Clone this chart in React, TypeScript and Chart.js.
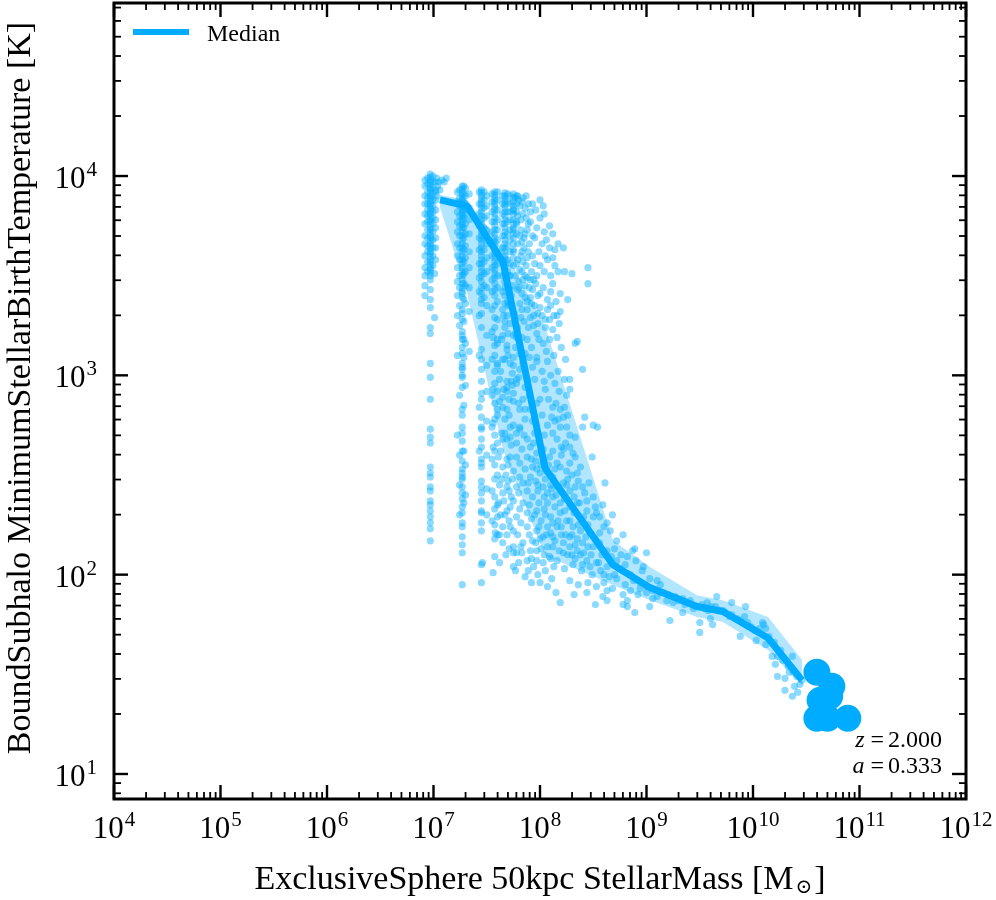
import { useEffect, useRef } from 'react';
import { Chart, registerables } from 'chart.js';
import type { Plugin } from 'chart.js';

Chart.register(...registerables);

// all values are log10: stellar mass [Msun], temperature [K]
const xRange = [1e4, 1e12];
const yRange = [7.49, 7.38e4];
const xTickExponents = [4, 5, 6, 7, 8, 9, 10, 11, 12];
const yTickExponents = [1, 2, 3, 4];

// galaxies with 1..6 star particles sit in vertical columns
const columnLogMass = [
  6.92, 6.945, 6.97, 6.995, 7.02,
  7.225, 7.245, 7.27, 7.285, 7.3, 7.335,
  7.43, 7.45, 7.475, 7.5,
  7.55, 7.575, 7.6,
  7.65, 7.67, 7.695,
  7.72, 7.75, 7.78,
];
const columnLogTemp = [
  [3.98, 3.95, 3.9, 3.86, 3.81, 3.76, 3.7, 3.66, 3.6, 3.54, 3.5, 3.45, 3.4],
  [3.99, 3.96, 3.92, 3.89, 3.86, 3.83, 3.8, 3.77, 3.73, 3.69, 3.65, 3.62, 3.57, 3.52],
  [4.01, 3.995, 3.98, 3.97, 3.955, 3.94, 3.93, 3.915, 3.9, 3.89, 3.875, 3.86, 3.85, 3.835, 3.82, 3.81,
    3.795, 3.78, 3.77, 3.755, 3.74, 3.73, 3.715, 3.7, 3.69, 3.675, 3.66, 3.65, 3.635, 3.62, 3.61, 3.595,
    3.58, 3.57, 3.555, 3.54, 3.53, 3.515, 3.5, 3.48, 3.43, 3.38, 3.34, 3.24, 3.21, 3.06, 2.99, 2.88,
    2.73, 2.69, 2.66, 2.54, 2.51, 2.49, 2.44, 2.42, 2.37, 2.35, 2.32, 2.29, 2.26, 2.23, 2.17],
  [4.0, 3.97, 3.94, 3.91, 3.88, 3.85, 3.82, 3.79, 3.76, 3.72, 3.68, 3.64, 3.6, 3.55],
  [3.97, 3.93, 3.88, 3.83, 3.78, 3.74, 3.69, 3.64, 3.58],
  [3.92, 3.87, 3.82, 3.77, 3.72, 3.66, 3.6, 3.54, 3.47, 3.4, 3.3, 3.1, 2.7],
  [3.93, 3.89, 3.85, 3.8, 3.75, 3.7, 3.64, 3.58, 3.5, 3.44, 3.35, 3.25, 2.9, 2.6, 2.45, 2.3],
  [3.95, 3.935, 3.92, 3.905, 3.89, 3.875, 3.86, 3.845, 3.83, 3.815, 3.8, 3.785, 3.77, 3.755, 3.74,
    3.72, 3.7, 3.68, 3.66, 3.64, 3.62, 3.6, 3.58, 3.56, 3.54, 3.52, 3.5, 3.48, 3.46, 3.44, 3.42, 3.41,
    3.39, 3.33, 3.31, 3.28, 3.22, 3.2, 3.18, 3.14, 3.11, 3.06, 3.04, 3.03, 3.0, 2.99, 2.94, 2.83, 2.8,
    2.74, 2.71, 2.67, 2.62, 2.57, 2.53, 2.51, 2.49, 2.48, 2.44, 2.41, 2.38, 2.34, 2.31, 2.26, 2.24,
    2.19, 2.15, 2.11, 1.95],
  [3.95, 3.91, 3.87, 3.83, 3.79, 3.74, 3.69, 3.63, 3.57, 3.51, 3.46, 3.38, 3.27, 3.18, 3.09, 2.85, 2.62, 2.36],
  [3.94, 3.9, 3.86, 3.81, 3.76, 3.71, 3.65, 3.59, 3.52, 3.45, 3.36, 3.16, 2.95, 2.55, 2.4],
  [3.91, 3.84, 3.78, 3.71, 3.62, 3.54, 3.44, 3.32, 3.12],
  [3.92, 3.86, 3.81, 3.75, 3.69, 3.63, 3.56, 3.49, 3.42, 3.3, 3.1, 2.84, 2.62],
  [3.93, 3.915, 3.9, 3.885, 3.87, 3.855, 3.84, 3.82, 3.8, 3.78, 3.76, 3.74, 3.72, 3.7, 3.68, 3.66,
    3.64, 3.62, 3.6, 3.58, 3.56, 3.54, 3.52, 3.5, 3.47, 3.44, 3.41, 3.38, 3.36, 3.31, 3.24, 3.13, 3.08,
    3.03, 2.97, 2.91, 2.88, 2.79, 2.74, 2.73, 2.68, 2.64, 2.58, 2.56, 2.54, 2.47, 2.44, 2.41, 2.37,
    2.32, 2.31, 2.26, 2.22, 2.05, 1.96],
  [3.92, 3.88, 3.84, 3.79, 3.74, 3.69, 3.63, 3.57, 3.51, 3.45, 3.39],
  [3.9, 3.85, 3.8, 3.73, 3.66, 3.59, 3.52, 3.44, 3.35, 3.2, 3.05, 2.92, 2.77, 2.6, 2.43, 2.3],
  [3.91, 3.87, 3.82, 3.77, 3.72, 3.66, 3.6, 3.54, 3.48, 3.42, 3.33, 3.22, 3.08, 2.9, 2.74, 2.58, 2.42, 2.27],
  [3.92, 3.905, 3.89, 3.875, 3.86, 3.845, 3.83, 3.81, 3.79, 3.77, 3.75, 3.73, 3.71, 3.69, 3.67, 3.65,
    3.63, 3.61, 3.59, 3.57, 3.55, 3.53, 3.51, 3.49, 3.46, 3.43, 3.4, 3.35, 3.29, 3.24, 3.15, 3.1, 3.02,
    2.96, 2.86, 2.78, 2.7, 2.62, 2.55, 2.48, 2.39, 2.33, 2.25, 2.18, 2.09],
  [3.92, 3.88, 3.83, 3.78, 3.73, 3.68, 3.62, 3.56, 3.5, 3.44, 3.37, 3.28, 3.18, 3.05, 2.92, 2.8, 2.66, 2.5, 2.35, 2.2],
  [3.9, 3.86, 3.81, 3.76, 3.7, 3.64, 3.57, 3.5, 3.42, 3.33, 3.2],
  [3.915, 3.9, 3.885, 3.87, 3.855, 3.84, 3.82, 3.8, 3.78, 3.76, 3.74, 3.72, 3.7, 3.68, 3.66, 3.64,
    3.62, 3.6, 3.58, 3.55, 3.51, 3.47, 3.4, 3.36, 3.27],
  [3.91, 3.87, 3.82, 3.77, 3.71, 3.65, 3.58, 3.52, 3.45, 3.37],
  [3.9, 3.86, 3.82, 3.78, 3.73, 3.68, 3.62, 3.56, 3.5, 3.43, 3.35],
  [3.91, 3.89, 3.87, 3.85, 3.83, 3.81, 3.78, 3.76, 3.74, 3.71, 3.69, 3.66, 3.63, 3.59, 3.55],
  [3.9, 3.86, 3.82, 3.77, 3.71],
];

// the rest of the subhalos, [log M, log T]
const cloudPoints: [number, number][] = [
  [7.03, 3.99], [7.05, 3.97], [7.08, 3.98], [7.04, 3.95], [7.06, 3.93], [7.02, 3.92], [7.1, 3.97],
  [7.12, 3.99], [7.03, 3.9], [7.01, 3.51], [7.01, 3.29],
  [7.77, 3.89], [7.83, 3.87], [7.89, 3.86], [7.93, 3.86], [8.0, 3.88], [8.03, 3.85], [8.09, 3.75],
  [8.12, 3.71], [8.17, 3.66], [8.22, 3.64], [8.09, 3.64], [8.02, 3.66], [7.95, 3.69], [7.97, 3.74],
  [8.0, 3.79], [7.89, 3.76], [7.86, 3.71], [8.12, 3.59], [8.07, 3.58], [8.0, 3.55], [8.17, 3.52],
  [8.23, 3.52], [8.3, 3.51], [8.45, 3.54], [8.45, 3.46], [8.19, 3.41], [8.26, 3.38], [8.12, 3.46],
  [8.03, 3.44], [7.93, 3.43], [8.07, 3.38], [7.91, 3.39], [7.83, 3.41], [8.19, 3.32], [8.16, 3.3],
  [8.09, 3.28], [8.07, 3.33], [7.98, 3.31], [8.12, 3.23], [7.98, 3.26], [7.97, 3.21], [8.03, 3.16],
  [8.09, 3.18], [8.16, 3.19], [8.33, 3.16], [8.35, 3.17], [8.4, 3.03], [8.23, 2.98], [8.28, 2.98],
  [8.14, 2.96], [8.07, 3.07], [7.97, 3.07], [7.93, 3.04], [7.97, 3.09], [7.88, 3.18], [7.92, 3.14],
  [8.28, 2.93], [8.05, 2.93], [8.0, 2.88], [8.12, 2.84], [8.19, 2.83], [8.22, 2.79], [8.11, 2.79],
  [8.07, 2.75], [8.19, 2.74], [8.42, 2.79], [8.5, 2.75], [8.54, 2.74], [8.4, 2.74], [8.33, 2.69],
  [7.67, 3.44], [7.69, 3.3], [7.67, 3.24], [7.75, 3.2], [7.69, 3.15], [7.77, 3.14], [7.67, 3.08],
  [7.75, 3.05], [7.81, 3.03], [7.86, 3.11], [7.69, 2.97], [7.78, 2.98], [7.86, 2.94], [7.69, 2.92],
  [7.75, 2.87], [7.69, 2.83], [7.81, 2.83], [7.86, 2.83], [7.75, 2.75], [7.81, 2.74], [7.67, 2.71],
  [7.75, 3.83], [7.79, 3.8], [7.75, 3.73], [7.83, 3.67], [7.75, 3.62], [7.84, 3.57], [7.81, 3.53],
  [7.88, 3.49], [7.91, 3.48], [7.95, 3.56], [7.93, 3.6], [7.89, 3.62], [7.78, 3.56], [7.84, 3.48],
  [7.79, 3.43], [7.86, 3.39], [7.92, 3.36], [7.83, 3.33], [7.91, 3.29], [7.89, 3.24], [7.79, 3.24],
  [7.72, 3.26], [7.83, 3.19],
  [8.23, 2.84], [8.17, 2.78], [8.25, 2.74], [8.12, 2.71], [8.28, 2.64], [8.22, 2.63], [8.33, 2.59],
  [8.49, 2.59], [8.38, 2.54], [8.35, 2.51], [8.25, 2.52], [8.19, 2.54], [8.16, 2.56], [8.09, 2.59],
  [8.12, 2.49], [8.22, 2.46], [8.28, 2.42], [8.4, 2.44], [8.42, 2.41], [8.5, 2.39], [8.61, 2.46],
  [8.59, 2.35], [8.53, 2.31], [8.68, 2.3], [8.63, 2.26], [8.5, 2.29], [8.44, 2.32], [8.35, 2.36],
  [8.28, 2.34], [8.19, 2.36], [8.12, 2.39], [8.19, 2.31], [8.25, 2.27], [8.31, 2.24], [8.38, 2.22],
  [8.47, 2.21], [8.56, 2.21], [8.72, 2.17], [8.78, 2.2], [8.87, 2.12], [8.82, 2.09], [8.72, 2.07],
  [8.63, 2.12], [8.56, 2.16], [8.5, 2.14], [8.4, 2.16], [8.35, 2.12], [8.28, 2.14], [8.22, 2.11],
  [8.16, 2.07], [8.09, 2.09], [8.03, 2.06], [7.97, 2.07], [8.44, 2.07], [8.53, 2.06], [8.63, 2.04],
  [7.6, 3.16], [7.65, 3.08], [7.72, 3.06], [7.81, 3.11], [7.88, 2.98], [7.78, 2.96], [7.69, 2.94],
  [7.75, 2.91], [7.84, 2.88], [7.91, 2.83], [7.65, 2.84], [7.72, 2.74], [7.81, 2.73], [7.88, 2.68],
  [7.78, 2.66], [7.69, 2.68], [7.91, 2.64], [7.97, 2.61], [7.88, 2.59], [7.81, 2.56], [7.75, 2.52],
  [7.65, 2.54], [7.72, 2.59], [7.93, 2.54], [8.0, 2.51], [7.91, 2.49], [7.84, 2.46], [7.78, 2.44],
  [7.7, 2.47], [7.65, 2.41], [7.75, 2.37], [7.84, 2.36], [7.93, 2.39], [8.03, 2.44], [8.07, 2.36],
  [7.97, 2.32], [7.88, 2.31], [7.78, 2.29], [7.69, 2.32], [7.6, 2.29], [7.65, 2.24], [7.75, 2.22],
  [7.88, 2.24], [7.97, 2.22], [8.07, 2.24], [8.03, 2.19], [7.93, 2.17], [7.84, 2.16], [7.75, 2.14],
  [7.65, 2.16], [7.58, 2.21], [7.78, 2.11], [7.88, 2.07], [7.97, 2.12], [8.07, 2.14], [8.12, 2.19],
  [8.16, 2.24], [7.75, 2.04], [7.62, 2.06], [7.46, 2.06],
  [7.56, 3.19], [7.6, 3.06], [7.62, 2.98], [7.56, 2.93], [7.65, 2.89], [7.6, 2.83], [7.56, 2.76],
  [7.64, 2.71], [7.56, 2.64], [7.61, 2.59], [7.65, 2.68], [7.69, 3.13], [7.75, 3.09], [7.74, 3.01],
  [7.78, 3.19],
  [7.75, 2.11], [7.83, 2.11], [7.89, 2.02], [7.98, 2.0], [8.07, 1.94], [7.92, 1.96], [7.77, 2.02],
  [7.56, 2.01], [8.19, 1.86], [8.44, 1.91], [8.52, 1.85], [8.63, 1.87], [8.78, 1.85], [8.89, 1.81],
  [9.03, 1.84], [9.06, 1.88], [9.0, 1.91], [9.16, 1.91], [9.22, 1.77], [9.5, 1.76], [9.62, 1.75],
  [9.41, 1.87], [9.66, 1.89], [9.8, 1.86], [9.93, 1.84],
  [8.89, 2.13], [9.0, 2.11], [8.97, 2.04], [8.96, 2.02], [9.03, 1.98], [9.1, 1.97], [9.13, 1.95],
  [8.94, 1.93], [8.85, 1.92], [8.78, 1.9], [8.82, 1.87], [9.19, 1.87], [9.25, 1.86], [9.34, 1.88],
  [9.47, 1.84], [9.57, 1.86], [9.61, 1.84], [9.5, 1.71], [9.72, 1.82], [9.78, 1.79], [9.88, 1.69],
  [9.95, 1.76], [10.1, 1.75], [10.12, 1.73], [10.03, 1.67], [8.59, 1.89], [8.82, 1.84], [8.63, 1.92],
  [8.53, 1.94],
  [9.6, 1.78], [9.34, 1.81], [10.09, 1.76], [10.12, 1.65], [10.18, 1.59], [10.23, 1.59], [10.21, 1.55],
  [10.37, 1.59], [10.33, 1.54], [10.23, 1.49], [10.3, 1.48], [10.39, 1.44], [10.42, 1.41],
  [10.37, 1.39], [10.3, 1.42], [10.46, 1.47], [10.38, 1.51],
  [8.75, 2.03], [8.85, 2.0], [8.94, 1.96], [9.13, 1.91], [9.27, 1.89], [9.55, 1.83], [9.69, 1.82],
  [9.88, 1.77], [10.02, 1.72],
  // denser body of the cloud
  [7.8, 3.88], [7.86, 3.84], [7.91, 3.82], [7.96, 3.83], [8.04, 3.81], [7.82, 3.78], [7.88, 3.73],
  [7.93, 3.7], [8.04, 3.72], [8.06, 3.68], [7.81, 3.7], [7.85, 3.64], [7.9, 3.66], [7.99, 3.62],
  [8.05, 3.6], [8.14, 3.63], [7.82, 3.6], [7.87, 3.55], [7.92, 3.52], [7.97, 3.5], [8.04, 3.52],
  [8.1, 3.5], [8.14, 3.55], [7.8, 3.47], [7.86, 3.45], [7.96, 3.46], [8.0, 3.41], [8.1, 3.42],
  [8.15, 3.37], [7.81, 3.36], [7.88, 3.33], [7.95, 3.35], [8.02, 3.3], [8.13, 3.3], [7.85, 3.27],
  [7.94, 3.25], [8.05, 3.24], [8.18, 3.26], [7.76, 3.31], [7.73, 3.4], [7.71, 3.5], [7.74, 3.45],
  [7.99, 3.18], [8.06, 3.12], [8.13, 3.1], [8.2, 3.14], [8.24, 3.08], [7.9, 3.09], [7.84, 3.06],
  [8.02, 3.02], [8.1, 3.0], [8.17, 3.02], [7.8, 2.99], [7.95, 2.98], [8.04, 2.97], [8.18, 2.92],
  [8.25, 2.9], [7.74, 2.95], [7.9, 2.9], [7.97, 2.86], [8.08, 2.88], [8.15, 2.86], [7.8, 2.86],
  [7.86, 2.78], [7.93, 2.77], [8.02, 2.8], [8.14, 2.77], [8.26, 2.8], [7.71, 2.8], [7.78, 2.71],
  [7.85, 2.7], [7.95, 2.71], [8.04, 2.7], [8.16, 2.68], [8.24, 2.66], [7.73, 2.65], [7.83, 2.63],
  [7.94, 2.66], [8.03, 2.63], [8.12, 2.62], [8.2, 2.6], [7.78, 2.59], [7.92, 2.58], [8.04, 2.57],
  [8.28, 2.56], [7.7, 2.55], [7.86, 2.53], [7.97, 2.53], [8.06, 2.52], [8.14, 2.53], [8.3, 2.5],
  [7.68, 2.5], [7.74, 2.48], [7.81, 2.49], [7.89, 2.46], [7.96, 2.47], [8.05, 2.48], [8.1, 2.45],
  [8.17, 2.44], [8.25, 2.45], [8.33, 2.44], [7.62, 2.45], [7.71, 2.42], [7.8, 2.41], [7.88, 2.42],
  [7.98, 2.42], [8.07, 2.41], [8.15, 2.4], [8.23, 2.38], [8.32, 2.39], [8.37, 2.36], [7.66, 2.37],
  [7.72, 2.34], [7.81, 2.33], [7.9, 2.35], [7.99, 2.36], [8.04, 2.33], [8.14, 2.34], [8.23, 2.32],
  [8.32, 2.31], [8.41, 2.29], [7.63, 2.3], [7.71, 2.27], [7.82, 2.26], [7.92, 2.28], [8.01, 2.27],
  [8.1, 2.29], [8.17, 2.27], [8.28, 2.27], [8.36, 2.25], [8.45, 2.25], [7.69, 2.2], [7.79, 2.2],
  [7.9, 2.2], [8.0, 2.18], [8.1, 2.21], [8.2, 2.2], [8.28, 2.19], [8.35, 2.18], [8.43, 2.19],
  [8.52, 2.18], [7.71, 2.13], [7.82, 2.14], [7.91, 2.12], [8.01, 2.13], [8.12, 2.14], [8.18, 2.12],
  [8.26, 2.1], [8.33, 2.08], [8.41, 2.11], [8.48, 2.1], [8.58, 2.1], [8.67, 2.09], [7.8, 2.06],
  [7.94, 2.04], [8.05, 2.02], [8.13, 2.04], [8.23, 2.03], [8.31, 2.05], [8.39, 2.02], [8.49, 2.0],
  [8.57, 2.02], [8.7, 2.0], [7.86, 1.99], [8.0, 1.96], [8.11, 1.98], [8.28, 1.97], [8.36, 1.95],
  [8.45, 1.96], [8.6, 1.96], [8.68, 1.93], [8.15, 1.91], [8.32, 1.9],
  [8.72, 1.98], [8.8, 1.95], [8.88, 1.97], [8.92, 1.9], [9.0, 1.94], [9.06, 1.92], [9.1, 1.89],
  [9.2, 1.9], [9.3, 1.87], [9.36, 1.85], [9.44, 1.83], [9.52, 1.85], [9.58, 1.82], [9.65, 1.84],
  [9.74, 1.81], [9.8, 1.8], [9.85, 1.78], [9.92, 1.79], [9.98, 1.74], [10.06, 1.73], [10.15, 1.69],
  [10.2, 1.66], [10.26, 1.62], [10.28, 1.57], [10.34, 1.51], [10.41, 1.49], [10.44, 1.45],
  [7.79, 3.9], [7.84, 3.89], [7.87, 3.9], [7.81, 3.85], [7.84, 3.81], [7.78, 3.76], [7.82, 3.73],
  [7.87, 3.79], [7.91, 3.77], [7.85, 3.69], [7.79, 3.66], [7.83, 3.62], [7.88, 3.59], [7.79, 3.58],
  [7.83, 3.52], [7.77, 3.5], [7.8, 3.44], [7.9, 3.44], [7.86, 3.5], [7.94, 3.48], [7.98, 3.4],
  [7.88, 3.37], [7.82, 3.29], [7.77, 3.21], [7.94, 3.3], [8.0, 3.34], [8.05, 3.28], [8.1, 3.35],
  [7.7, 3.35], [7.66, 3.3], [7.7, 3.21], [7.64, 3.18], [7.7, 3.1], [7.63, 3.02], [7.73, 2.97],
  [7.66, 2.93], [7.71, 2.88], [7.62, 2.87], [7.67, 2.78], [7.72, 2.69], [7.63, 2.62], [7.69, 2.58],
  [7.64, 2.48], [7.69, 2.44], [7.73, 2.39], [7.61, 2.36], [7.67, 2.3], [7.72, 2.24], [7.62, 2.2],
  [7.68, 2.1],
  [7.96, 2.57], [8.01, 2.55], [8.08, 2.55], [7.98, 2.45], [8.04, 2.39], [8.11, 2.43], [7.95, 2.3],
  [8.05, 2.3], [8.12, 2.26], [7.99, 2.24], [8.06, 2.2], [8.14, 2.17], [7.96, 2.16], [8.04, 2.1],
  [8.1, 2.08], [7.92, 2.08], [8.2, 2.24], [8.24, 2.2], [8.22, 2.16], [8.3, 2.2], [8.33, 2.15],
  [8.38, 2.1], [8.45, 2.14], [8.3, 2.1], [8.4, 2.05], [8.47, 2.04], [8.55, 2.06], [8.6, 2.0],
  [8.65, 1.99],
  [8.2, 2.64], [8.28, 2.7], [8.31, 2.61], [8.26, 2.48], [8.36, 2.47], [8.44, 2.37], [8.46, 2.46],
  [8.52, 2.34], [8.56, 2.29], [8.6, 2.24], [8.66, 2.22], [8.7, 2.13], [8.76, 2.1], [8.8, 2.05],
  [8.9, 2.07],
];

// the most massive galaxies, drawn with big markers
const massiveLogMass = [10.6, 10.74, 10.72, 10.63, 10.6, 10.7, 10.89];
const massiveLogTemp = [1.51, 1.44, 1.39, 1.37, 1.28, 1.28, 1.28];

// running median and its 16-84 band
const medianLogMass = [7.061, 7.315, 7.653, 8.047, 8.685, 9.033, 9.474, 9.718, 10.141, 10.46];
const medianLogTemp = [3.88, 3.849, 3.568, 2.535, 2.05, 1.935, 1.84, 1.815, 1.682, 1.471];
const bandUpperLogTemp = [3.905, 3.88, 3.644, 3.247, 2.173, 2.038, 1.897, 1.872, 1.787, 1.573];
const bandLowerLogTemp = [3.844, 3.413, 2.625, 2.098, 1.948, 1.872, 1.787, 1.762, 1.621, 1.446];

const BLUE = 'rgb(0, 172, 255)';
const SERIF = "'Liberation Serif', 'Times New Roman', 'DejaVu Serif', serif";

const pt = (m: number, t: number) => ({ x: 10 ** m, y: 10 ** t });

function drawPower(ctx: CanvasRenderingContext2D, exp: number, x: number, baseline: number, align: 'center' | 'right') {
  ctx.font = `31px ${SERIF}`;
  const wBase = ctx.measureText('10').width;
  ctx.font = `21px ${SERIF}`;
  const wExp = ctx.measureText(String(exp)).width;
  const total = wBase + 1 + wExp;
  const start = align === 'center' ? x - total / 2 : x - total;
  ctx.textAlign = 'left';
  ctx.textBaseline = 'alphabetic';
  ctx.font = `31px ${SERIF}`;
  ctx.fillText('10', start, baseline);
  ctx.font = `21px ${SERIF}`;
  ctx.fillText(String(exp), start + wBase + 1, baseline - 12);
}

// "name = value", right aligned, in the mathtext style of the original
function drawMathRight(ctx: CanvasRenderingContext2D, name: string, value: string, right: number, baseline: number) {
  ctx.textAlign = 'left';
  ctx.font = `24px ${SERIF}`;
  const wVal = ctx.measureText(value).width;
  const wEq = ctx.measureText('=').width;
  ctx.font = `italic 24px ${SERIF}`;
  const wName = ctx.measureText(name).width;
  const xVal = right - wVal;
  const xEq = xVal - 4 - wEq;
  const xName = xEq - 6 - wName;
  ctx.fillText(name, xName, baseline);
  ctx.font = `24px ${SERIF}`;
  ctx.fillText('=', xEq, baseline);
  ctx.fillText(value, xVal, baseline);
}

const frameAxes: Plugin = {
  id: 'frameAxes',
  afterDraw(chart) {
    const { ctx, chartArea: area } = chart;
    const xs = chart.scales.x;
    const ys = chart.scales.y;
    const seg = (x1: number, y1: number, x2: number, y2: number) => {
      ctx.beginPath();
      ctx.moveTo(x1, y1);
      ctx.lineTo(x2, y2);
      ctx.stroke();
    };
    ctx.save();
    ctx.strokeStyle = '#000';
    ctx.fillStyle = '#000';
    ctx.lineCap = 'butt';

    // inward log ticks on all four sides
    for (let d = 4; d <= 12; d++) {
      for (let m = 1; m <= 9; m++) {
        const v = m * 10 ** d;
        if (v > xRange[1] * 1.001) continue;
        const px = xs.getPixelForValue(v);
        const len = m === 1 ? 14 : 7;
        ctx.lineWidth = m === 1 ? 2.4 : 1.8;
        seg(px, area.bottom, px, area.bottom - len);
        seg(px, area.top, px, area.top + len);
      }
    }
    for (let d = 0; d <= 4; d++) {
      for (let m = 1; m <= 9; m++) {
        const v = m * 10 ** d;
        if (v < yRange[0] || v > yRange[1]) continue;
        const py = ys.getPixelForValue(v);
        const len = m === 1 ? 14 : 7;
        ctx.lineWidth = m === 1 ? 2.4 : 1.8;
        seg(area.left, py, area.left + len, py);
        seg(area.right, py, area.right - len, py);
      }
    }

    ctx.lineWidth = 3;
    ctx.strokeRect(area.left, area.top, area.right - area.left, area.bottom - area.top);

    xTickExponents.forEach((e) => drawPower(ctx, e, xs.getPixelForValue(10 ** e), area.bottom + 39, 'center'));
    yTickExponents.forEach((e) => drawPower(ctx, e, area.left - 17, ys.getPixelForValue(10 ** e) + 12, 'right'));

    // x axis title with solar subscript
    const main = 'ExclusiveSphere 50kpc StellarMass [M';
    ctx.font = `34px ${SERIF}`;
    const wMain = ctx.measureText(main).width;
    const wClose = ctx.measureText(']').width;
    ctx.font = `20px ${SERIF}`;
    const wSun = ctx.measureText('\u2299').width;
    const cx = (area.left + area.right) / 2;
    let x0 = cx - (wMain + wSun + 4 + wClose) / 2;
    const base = area.bottom + 90;
    ctx.textAlign = 'left';
    ctx.font = `34px ${SERIF}`;
    ctx.fillText(main, x0, base);
    x0 += wMain + 2;
    ctx.font = `20px ${SERIF}`;
    ctx.fillText('\u2299', x0, base + 4);
    x0 += wSun + 2;
    ctx.font = `34px ${SERIF}`;
    ctx.fillText(']', x0, base);

    // y axis title
    ctx.save();
    ctx.translate(30, (area.top + area.bottom) / 2 - 13);
    ctx.rotate(-Math.PI / 2);
    ctx.textAlign = 'center';
    ctx.font = `34px ${SERIF}`;
    ctx.fillText('BoundSubhalo MinimumStellarBirthTemperature [K]', 0, 0);
    ctx.restore();

    // legend
    ctx.strokeStyle = BLUE;
    ctx.lineWidth = 6;
    seg(area.left + 19, area.top + 29, area.left + 75, area.top + 29);
    ctx.font = `24px ${SERIF}`;
    ctx.textAlign = 'left';
    ctx.fillText('Median', area.left + 93, area.top + 38);

    // redshift annotation
    drawMathRight(ctx, 'z', '2.000', area.right - 24, area.bottom - 52);
    drawMathRight(ctx, 'a', '0.333', area.right - 24, area.bottom - 26);

    ctx.restore();
  },
};

export default function App() {
  const canvasRef = useRef<HTMLCanvasElement>(null);
  const chartRef = useRef<Chart | null>(null);

  useEffect(() => {
    if (!canvasRef.current) return;
    document.body.style.margin = '0';
    document.body.style.overflow = 'hidden';

    const scatter = [
      ...columnLogMass.flatMap((m, i) => columnLogTemp[i].map((t) => pt(m, t))),
      ...cloudPoints.map(([m, t]) => pt(m, t)),
    ];
    const median = medianLogMass.map((m, i) => pt(m, medianLogTemp[i]));
    const upper = medianLogMass.map((m, i) => pt(m, bandUpperLogTemp[i]));
    const lower = medianLogMass.map((m, i) => pt(m, bandLowerLogTemp[i]));
    const massive = massiveLogMass.map((m, i) => pt(m, massiveLogTemp[i]));

    if (chartRef.current) chartRef.current.destroy();

    chartRef.current = new Chart(canvasRef.current, {
      type: 'scatter',
      data: {
        datasets: [
          {
            type: 'line',
            label: 'band',
            data: upper,
            showLine: true,
            borderWidth: 0,
            borderColor: 'rgba(0,0,0,0)',
            pointRadius: 0,
            fill: '+1',
            backgroundColor: 'rgba(0, 172, 255, 0.3)',
            order: 3,
          },
          {
            type: 'line',
            label: 'band lower',
            data: lower,
            showLine: true,
            borderWidth: 0,
            borderColor: 'rgba(0,0,0,0)',
            pointRadius: 0,
            fill: false,
            order: 3,
          },
          {
            label: 'subhalos',
            data: scatter,
            pointRadius: 3.6,
            borderWidth: 0,
            backgroundColor: 'rgba(0, 172, 255, 0.45)',
            order: 2,
          },
          {
            type: 'line',
            label: 'Median',
            data: median,
            showLine: true,
            borderColor: BLUE,
            borderWidth: 7,
            borderJoinStyle: 'round',
            pointRadius: 0,
            fill: false,
            order: 1,
          },
          {
            label: 'massive',
            data: massive,
            pointRadius: 13.5,
            borderWidth: 0,
            backgroundColor: BLUE,
            order: 0,
          },
        ],
      },
      options: {
        responsive: true,
        maintainAspectRatio: false,
        animation: false,
        events: [],
        layout: { autoPadding: false, padding: { left: 114, right: 30, top: 3, bottom: 101 } },
        plugins: {
          legend: { display: false },
          tooltip: { enabled: false },
        },
        scales: {
          x: { type: 'logarithmic', min: xRange[0], max: xRange[1], display: false },
          y: { type: 'logarithmic', min: yRange[0], max: yRange[1], display: false },
        },
      },
      plugins: [frameAxes],
    });

    return () => {
      if (chartRef.current) {
        chartRef.current.destroy();
        chartRef.current = null;
      }
    };
  }, []);

  return (
    <div style={{ width: 996, height: 900, position: 'relative', background: '#fff' }}>
      <canvas ref={canvasRef} />
    </div>
  );
}
